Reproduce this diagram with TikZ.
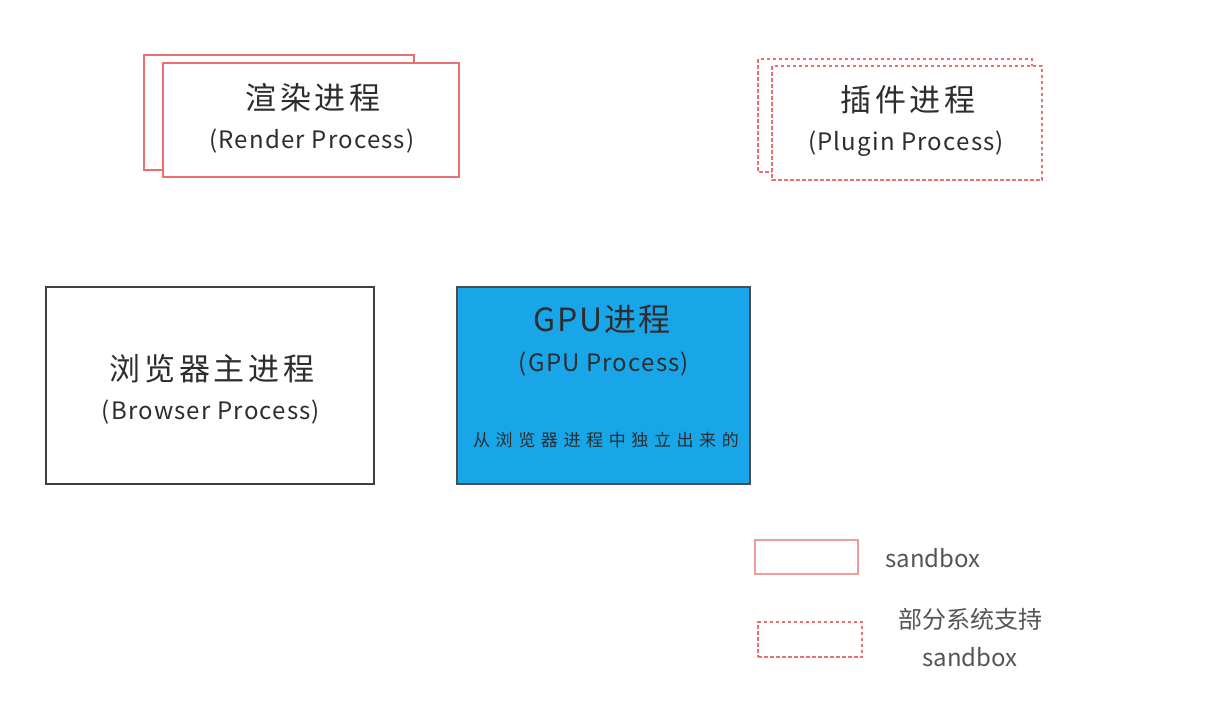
\documentclass[tikz,border=0pt]{standalone}
\usepackage{fontspec}
\setmainfont{Noto Sans CJK SC}
\definecolor{sbred}{RGB}{232,112,112}
\definecolor{gpublue}{RGB}{24,166,232}
\definecolor{txt}{RGB}{45,45,45}
\definecolor{legtxt}{RGB}{85,85,85}
\begin{document}
\begin{tikzpicture}[x=1pt,y=-1pt,
  sandbox/.style={draw=sbred,line width=1.3pt,fill=white},
  partial/.style={draw=sbred,line width=1.9pt,dash pattern=on 3.5pt off 2.5pt,fill=white},
  plain/.style={draw=black!75,line width=1.3pt,fill=white},
  gpu/.style={draw=black!70,line width=1.3pt,fill=gpublue},
  cn/.style={text=txt,font=\fontsize{31}{34}\selectfont\addfontfeature{LetterSpace=12},inner sep=0pt},
  en/.style={text=txt,font=\fontsize{24}{27}\selectfont\addfontfeature{LetterSpace=5},inner sep=0pt},
  leg/.style={text=legtxt,font=\fontsize{24}{38}\selectfont,inner sep=0pt,align=center}]
\useasboundingbox (0,0) rectangle (1210,710);
\fill[white] (0,0) rectangle (1210,710);
% Render process
\draw[sandbox] (144,55) rectangle (414,170);
\draw[sandbox] (163,63) rectangle (459,177);
\node[cn] (rcn) at (313,98) {渲染进程};
\node[en] (ren) at (312,141) {(Render Process)};
% Plugin process
\draw[partial] (758,59) rectangle (1032,172);
\draw[partial] (772,66) rectangle (1042,180);
\node[cn] (pcn) at (908,100) {插件进程};
\node[en] (pen) at (906,144) {(Plugin Process)};
% Browser process
\node[plain,minimum width=328pt,minimum height=197pt] (browser) at (210,385.5) {};
\node[cn] (bcn) at (212,369) {浏览器主进程};
\node[en] (ben) at (211,412) {(Browser Process)};
% GPU process
\node[gpu,minimum width=293pt,minimum height=197pt] (gpubox) at (603.5,385.5) {};
\node[cn,font=\fontsize{32}{35}\selectfont\addfontfeature{LetterSpace=6}] (gcn) at (602,320) {GPU进程};
\node[en] (gen) at (604,364) {(GPU Process)};
\node[cn,font=\fontsize{17}{20}\selectfont\addfontfeature{LetterSpace=33}] (gnote) at (606,440) {从浏览器进程中独立出来的};
% Legend
\node[sandbox,draw=sbred!70,minimum width=103pt,minimum height=34pt,inner sep=0pt] (leg1) at (806.5,557) {};
\node[leg] (leg1t) at (933,558) {sandbox};
\node[partial,line width=1.4pt,minimum width=104pt,minimum height=35pt,inner sep=0pt] (leg2) at (810,639.5) {};
\node[leg] (leg2t) at (970,638) {部分系统支持\\sandbox};
\end{tikzpicture}
\end{document}
